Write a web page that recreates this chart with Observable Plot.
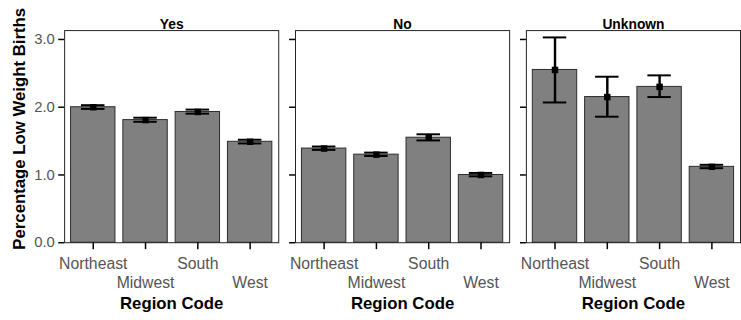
<!DOCTYPE html>
<html><head><meta charset="utf-8">
<script src="https://cdn.jsdelivr.net/npm/d3@7"></script>
<script src="https://cdn.jsdelivr.net/npm/@observablehq/plot@0.6"></script>
<style>
html,body{margin:0;padding:0;background:#fff;overflow:hidden;}
#chart{width:741px;height:320px;overflow:hidden;}
</style></head><body><div id="chart"></div>
<script>
const regions = ["Northeast", "Midwest", "South", "West"];
const conditions = ["Yes", "No", "Unknown"];
const yTicks = [0, 1, 2, 3];

const meanYes = [2.00, 1.81, 1.93, 1.49];
const lowYes  = [1.975, 1.785, 1.905, 1.465];
const highYes = [2.03, 1.845, 1.965, 1.52];

const meanNo = [1.39, 1.30, 1.55, 1.00];
const lowNo  = [1.37, 1.28, 1.51, 0.98];
const highNo = [1.42, 1.33, 1.60, 1.03];

const meanUnknown = [2.55, 2.15, 2.30, 1.12];
const lowUnknown  = [2.07, 1.86, 2.15, 1.10];
const highUnknown = [3.03, 2.45, 2.47, 1.15];

const series = {
  Yes: [meanYes, lowYes, highYes],
  No: [meanNo, lowNo, highNo],
  Unknown: [meanUnknown, lowUnknown, highUnknown]
};
const rows = conditions.flatMap(c => regions.map((r, i) => ({
  cond: c, region: r, mean: series[c][0][i], lo: series[c][1][i], hi: series[c][2][i]
})));

const font = "'Liberation Sans', Arial, sans-serif";
const blank = () => "";
const plot = Plot.plot({
  width: 751, height: 320,
  marginLeft: 64.5, marginRight: 0, marginTop: 30.5, marginBottom: 74.5,
  style: {fontFamily: font, background: "white"},
  fx: {domain: conditions, paddingInner: 0.0713, paddingOuter: 0, label: null},
  x: {domain: regions, paddingInner: 0.15, paddingOuter: 0.09, label: null},
  y: {domain: [0, 3.131], label: null},
  marks: [
    Plot.barY(rows, {fx: "cond", x: "region", y: "mean", fill: "#808080", stroke: "#2b2b2b", strokeWidth: 1}),
    Plot.ruleX(rows, {fx: "cond", x: "region", y1: "lo", y2: "hi", stroke: "black", strokeWidth: 2.5}),
    Plot.tickY(rows, {fx: "cond", x: "region", y: "lo", insetLeft: 10.6, insetRight: 10.6, stroke: "black", strokeWidth: 2}),
    Plot.tickY(rows, {fx: "cond", x: "region", y: "hi", insetLeft: 10.6, insetRight: 10.6, stroke: "black", strokeWidth: 2}),
    Plot.dot(rows, {fx: "cond", x: "region", y: "mean", symbol: "square", fill: "black", r: 3.7}),
    Plot.frame({stroke: "#222", strokeWidth: 1}),
    Plot.axisY({ticks: yTicks, tickSize: 6, tickFormat: blank, facetAnchor: null, strokeWidth: 1.5, stroke: "black", label: null}),
    Plot.axisY({ticks: yTicks, tickSize: 0, tickPadding: 10, tickFormat: d3.format(".1f"), fontSize: 15, fill: "#555", label: null}),
    Plot.axisX({tickSize: 7, tickFormat: blank, strokeWidth: 1.5, stroke: "black", label: null}),
    Plot.axisX({ticks: ["Northeast", "South"], tickSize: 0, tickPadding: 15, fontSize: 16, fill: "#555", label: null}),
    Plot.axisX({ticks: ["Midwest", "West"], tickSize: 0, tickPadding: 35, fontSize: 16, fill: "#555", label: null}),
    Plot.axisFx({anchor: "top", tickSize: 0, tickPadding: 2, fontSize: 14, fontWeight: "bold", label: null}),
    Plot.text(conditions, {fx: d => d, frameAnchor: "bottom", text: () => "Region Code", dy: 61.5, lineAnchor: "middle", fontSize: 17, fontWeight: "bold"}),
    Plot.text(["Percentage Low Weight Births"], {fx: ["Yes"], frameAnchor: "left", rotate: -90, dx: -45.5, dy: -8, lineAnchor: "middle", textAnchor: "middle", fontSize: 17, fontWeight: "bold"})
  ]
});
document.getElementById("chart").appendChild(plot);
</script></body></html>
